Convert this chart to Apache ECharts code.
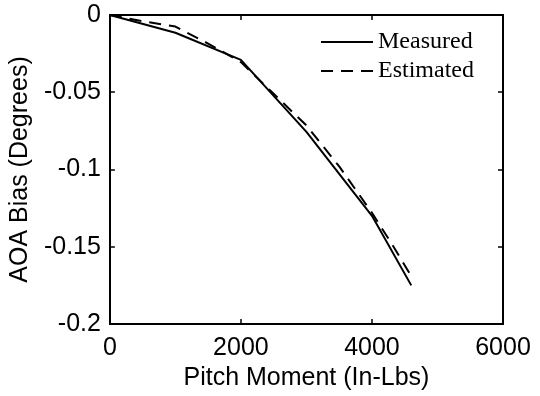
<!DOCTYPE html>
<html>
<head>
<meta charset="utf-8">
<script src="https://cdn.jsdelivr.net/npm/echarts@6/dist/echarts.min.js"></script>
<style>
  html, body { margin: 0; padding: 0; background: #fff; }
  #chart { width: 540px; height: 396px; }
</style>
</head>
<body>
<div id="chart"></div>
<script>
// values
const measuredX = [0, 1000, 2000, 3000, 4000, 4600];
const measuredY = [0, -0.0115, -0.029, -0.0756, -0.130, -0.175];

const estimatedX = [0, 500, 1000, 1500, 2000, 2500, 3000, 3500, 4000, 4300, 4600];
const estimatedY = [0, -0.004, -0.0075, -0.0185, -0.0305, -0.051, -0.0715, -0.098, -0.128, -0.148, -0.169];

const xTicks = [0, 2000, 4000, 6000];
const yTicks = [0, -0.05, -0.1, -0.15, -0.2];

const pairs = (xs, ys) => xs.map((x, i) => [x, ys[i]]);

const sans = 'Liberation Sans, Arial, sans-serif';
const serif = 'Liberation Serif, Times New Roman, serif';

const initChart = () => {
    let dom = document.getElementById('chart');
    let myChart = echarts.init(dom, null, {renderer: 'canvas'});

    const baseX = {
        type: 'value',
        min: xTicks[0],
        max: xTicks[xTicks.length - 1],
        interval: 2000,
        splitLine: {show: false},
        axisLine: {onZero: false, lineStyle: {color: '#000', width: 2}},
        axisTick: {inside: true, length: 5, lineStyle: {color: '#000', width: 1.5}}
    };
    const baseY = {
        type: 'value',
        min: yTicks[yTicks.length - 1],
        max: yTicks[0],
        interval: 0.05,
        splitLine: {show: false},
        axisLine: {onZero: false, lineStyle: {color: '#000', width: 2}},
        axisTick: {inside: true, length: 5, lineStyle: {color: '#000', width: 1.5}}
    };

    let option = {
        animation: false,
        backgroundColor: '#fff',
        grid: {left: 109, right: 37, top: 15, bottom: 68},
        legend: {
            orient: 'vertical',
            left: 315,
            top: 25,
            itemWidth: 52,
            itemHeight: 14,
            itemGap: 5,
            itemStyle: {opacity: 0},
            textStyle: {fontFamily: serif, fontSize: 24, color: '#000'},
            data: ['Measured', 'Estimated']
        },
        xAxis: [
            Object.assign({}, baseX, {
                position: 'bottom',
                name: 'Pitch Moment (In-Lbs)',
                nameLocation: 'middle',
                nameGap: 42,
                nameTextStyle: {fontFamily: sans, fontSize: 25, color: '#000'},
                axisLabel: {
                    margin: 12,
                    fontFamily: sans, fontSize: 25, color: '#000',
                    formatter: v => String(v)
                }
            }),
            Object.assign({}, baseX, {
                position: 'top',
                axisLabel: {show: false}
            })
        ],
        yAxis: [
            Object.assign({}, baseY, {
                position: 'left',
                name: 'AOA Bias (Degrees)',
                nameLocation: 'middle',
                nameGap: 67,
                nameTextStyle: {fontFamily: sans, fontSize: 25, color: '#000'},
                axisLabel: {
                    margin: 9,
                    fontFamily: sans, fontSize: 25, color: '#000',
                    formatter: v => String(+v.toFixed(2))
                }
            }),
            Object.assign({}, baseY, {
                position: 'right',
                axisLabel: {show: false}
            })
        ],
        series: [
            {
                name: 'Measured',
                type: 'line',
                symbol: 'none',
                data: pairs(measuredX, measuredY),
                lineStyle: {color: '#000', width: 2, type: 'solid'},
                itemStyle: {color: '#000'}
            },
            {
                name: 'Estimated',
                type: 'line',
                symbol: 'none',
                data: pairs(estimatedX, estimatedY),
                lineStyle: {color: '#000', width: 2, type: [12, 8]},
                itemStyle: {color: '#000'}
            }
        ]
    };
    myChart.setOption(option);
};

initChart();
</script>
</body>
</html>
